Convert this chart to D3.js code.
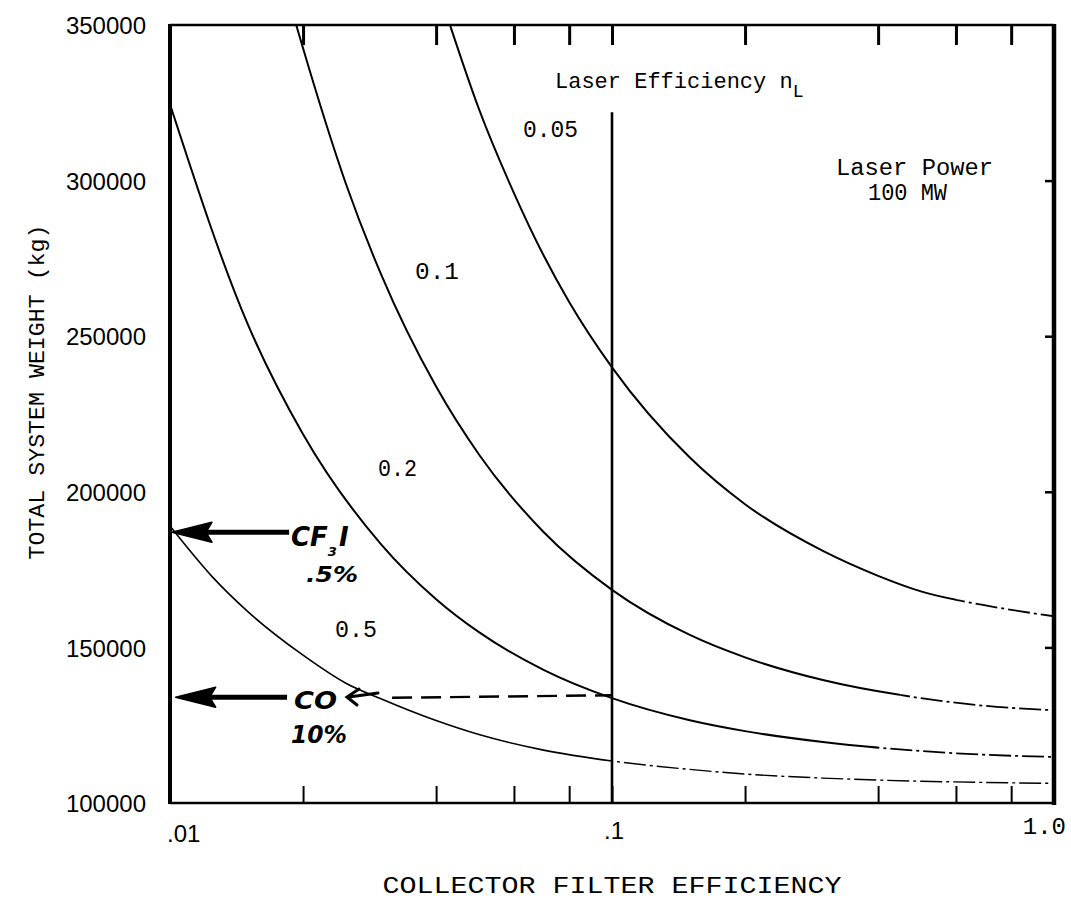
<!DOCTYPE html>
<html><head><meta charset="utf-8">
<script src="https://cdn.jsdelivr.net/npm/d3@7"></script>
<style>
html,body{margin:0;padding:0;background:#fff;}
svg{display:block;}
</style></head><body>
<svg id="chart" width="1071" height="912"></svg>
<script>
// ---------------- data ----------------
const xTickValues = [0.01, 0.1, 1];
const xTickLabels = [".01", ".1", "1.0"];
const minorTicks = [0.02, 0.04, 0.06, 0.08, 0.1, 0.2, 0.4, 0.6, 0.8];
const yTicks = [100000, 150000, 200000, 250000, 300000, 350000];
const rightTicks = [150000, 200000, 250000, 300000];

const seriesNames = ["0.05", "0.1", "0.2", "0.5"];
const eff005 = [0.043, 0.05, 0.06, 0.07, 0.08, 0.1, 0.15, 0.2, 0.3, 0.4, 0.5, 0.7, 1.0];
const w005   = [350000, 323000, 296000, 276000, 261000, 240000, 211000, 196000, 181000, 173000, 168000, 163500, 160000];
const eff01  = [0.0193, 0.02, 0.025, 0.03, 0.04, 0.05, 0.07, 0.1, 0.15, 0.2, 0.3, 0.5, 0.7, 1.0];
const w01    = [350000, 342500, 299000, 270000, 233800, 212000, 187100, 168500, 154000, 146800, 139500, 133700, 131200, 129800];
const eff02  = [0.01, 0.015, 0.02, 0.03, 0.04, 0.05, 0.07, 0.1, 0.15, 0.2, 0.3, 0.5, 0.7, 1.0];
const w02    = [324500, 253800, 218500, 183200, 165500, 154900, 142800, 133700, 126600, 123100, 119600, 116700, 115500, 114800];
const eff05  = [0.01, 0.0125, 0.015, 0.02, 0.025, 0.03, 0.04, 0.05, 0.07, 0.1, 0.15, 0.2, 0.3, 0.5, 0.7, 1.0];
const w05    = [189000, 172500, 161500, 147500, 138500, 133500, 126500, 122000, 117000, 113500, 110800, 109300, 108000, 107000, 106600, 106300];
const solidUntil = [0.6, 0.45, 0.4, 0.1];   // where each curve turns dash-dot

const refLineEff = 0.1, refLineTop = 322000;        // vertical line at .1
const cfArrow = {from: 0.0186, to: 0.0101, w: 187000};
const coArrow = {from: 0.0184, to: 0.0103, w: 134000};
const coDash  = {from: 0.0318, to: 0.1, w: 134300};

// ---------------- chart ----------------
const svg = d3.select("#chart");
const x = d3.scaleLog().domain([0.01, 1]).range([170, 1054]);
const y = d3.scaleLinear().domain([100000, 350000]).range([803, 25]);
const mono = '"Liberation Mono","DejaVu Sans Mono",monospace';
const sans = '"Liberation Sans",Arial,sans-serif';
const hand = '"DejaVu Sans",sans-serif';

// clip paths
const defs = svg.append("defs");
const series = [
  {e: eff005, w: w005}, {e: eff01, w: w01}, {e: eff02, w: w02}, {e: eff05, w: w05}
];
series.forEach((s, i) => {
  const xs = x(solidUntil[i]);
  defs.append("clipPath").attr("id", "solid" + i).append("rect")
    .attr("x", 170).attr("y", 25).attr("width", xs - 170).attr("height", 778);
  defs.append("clipPath").attr("id", "dash" + i).append("rect")
    .attr("x", xs).attr("y", 25).attr("width", 1054 - xs).attr("height", 778);
});

const line = d3.line().x(d => x(d[0])).y(d => y(d[1])).curve(d3.curveMonotoneX);
series.forEach((s, i) => {
  const pts = s.e.map((e, k) => [e, s.w[k]]);
  const sw = i === 3 ? 1.6 : 2;
  svg.append("path").datum(pts).attr("d", line).attr("fill", "none")
    .attr("stroke", "#000").attr("stroke-width", sw).attr("clip-path", `url(#solid${i})`);
  svg.append("path").datum(pts).attr("d", line).attr("fill", "none")
    .attr("stroke", "#000").attr("stroke-width", sw - 0.2)
    .attr("stroke-dasharray", "22,4,3,4").attr("clip-path", `url(#dash${i})`);
});

// vertical line at .1
svg.append("line").attr("x1", x(refLineEff)).attr("x2", x(refLineEff))
  .attr("y1", y(refLineTop)).attr("y2", y(100000))
  .attr("stroke", "#000").attr("stroke-width", 2.6);

// ticks
function styleAxis(g, w) {
  g.select(".domain").remove();
  g.selectAll("line").attr("stroke", "#000").attr("stroke-width", w);
  g.selectAll("text").remove();
}
svg.append("g").attr("transform", "translate(0,803)")
  .call(d3.axisBottom(x).tickValues(minorTicks).tickSize(-17).tickFormat(""))
  .call(g => styleAxis(g, 2));
svg.append("g").attr("transform", "translate(0,25)")
  .call(d3.axisTop(x).tickValues(minorTicks).tickSize(-20).tickFormat(""))
  .call(g => styleAxis(g, 3));
svg.append("g").attr("transform", "translate(1054,0)")
  .call(d3.axisRight(y).tickValues(rightTicks).tickSize(-9).tickFormat(""))
  .call(g => styleAxis(g, 2.5));

// y tick labels
const ya = svg.append("g").attr("transform", "translate(170,0)")
  .call(d3.axisLeft(y).tickValues(yTicks).tickSize(0).tickPadding(24).tickFormat(d3.format("d")));
ya.select(".domain").remove();
ya.selectAll("text").attr("font-family", sans).attr("font-size", 24).attr("fill", "#000").attr("dy", "0.36em");

// x tick labels
const xAnchor = ["start", "middle", "end"];
const xDx = [-3, 2, 12];
const xBase = [842, 839, 834];
const xFont = [sans, sans, mono];
xTickValues.forEach((v, i) => {
  svg.append("text").attr("x", x(v) + xDx[i]).attr("y", xBase[i])
    .attr("text-anchor", xAnchor[i]).attr("font-family", xFont[i])
    .attr("font-size", 24).text(xTickLabels[i]);
});

// frame
svg.append("line").attr("x1", 170).attr("x2", 1054).attr("y1", 25).attr("y2", 25).attr("stroke", "#000").attr("stroke-width", 2.5);
svg.append("line").attr("x1", 170).attr("x2", 1056).attr("y1", 803).attr("y2", 803).attr("stroke", "#000").attr("stroke-width", 2.5);
svg.append("line").attr("x1", 170).attr("x2", 170).attr("y1", 24).attr("y2", 804).attr("stroke", "#000").attr("stroke-width", 4);
svg.append("line").attr("x1", 1054).attr("x2", 1054).attr("y1", 24).attr("y2", 805).attr("stroke", "#000").attr("stroke-width", 4.5);

// axis titles
svg.append("text").attr("x", 612).attr("y", 893).attr("text-anchor", "middle")
  .attr("font-family", mono).attr("font-size", 24)
  .attr("textLength", 459).attr("lengthAdjust", "spacingAndGlyphs")
  .text("COLLECTOR FILTER EFFICIENCY");
svg.append("text").attr("transform", "translate(44,392) rotate(-90)")
  .attr("text-anchor", "middle").attr("font-family", mono).attr("font-size", 22)
  .attr("textLength", 335).attr("lengthAdjust", "spacingAndGlyphs")
  .text("TOTAL SYSTEM WEIGHT (kg)");

// in-plot labels
function tl(txt, xx, yy, len, size) {
  const t = svg.append("text").attr("x", xx).attr("y", yy)
    .attr("font-family", mono).attr("font-size", size || 23).text(txt);
  if (len) t.attr("textLength", len).attr("lengthAdjust", "spacingAndGlyphs");
  return t;
}
const le = svg.append("text").attr("x", 555).attr("y", 88)
  .attr("font-family", mono).attr("font-size", 22);
le.append("tspan").text("Laser Efficiency n");
le.append("tspan").attr("dy", 9).attr("font-size", 18).text("L");
tl("0.05", 523, 137, 55);
tl("0.1", 415, 279, 44);
tl("0.2", 378, 476, 39);
tl("0.5", 335, 637, 42);
tl("Laser Power", 836, 175, 157);
tl("100 MW", 868, 200, 79);

// hand annotations
function arrow(a) {
  const yy = y(a.w), x1 = x(a.from), x0 = x(a.to);
  svg.append("line").attr("x1", x1).attr("x2", x0 + 34).attr("y1", yy).attr("y2", yy)
    .attr("stroke", "#000").attr("stroke-width", 5);
  svg.append("path").attr("d", `M${x0},${yy} L${x0 + 40},${yy - 10} L${x0 + 34},${yy} L${x0 + 40},${yy + 10} Z`)
    .attr("fill", "#000").attr("stroke", "#000").attr("stroke-width", 1.5).attr("stroke-linejoin", "round");
}
arrow(cfArrow);
arrow(coArrow);
svg.append("line").attr("x1", x(coDash.from)).attr("x2", x(coDash.to))
  .attr("y1", y(coDash.w) + 1.5).attr("y2", y(coDash.w) - 1)
  .attr("stroke", "#000").attr("stroke-width", 2.4).attr("stroke-dasharray", "20,9");
svg.append("path").attr("d", "M378,693 L349,697 M359,689 L347,697 L357,705")
  .attr("fill", "none").attr("stroke", "#000").attr("stroke-width", 3).attr("stroke-linecap", "round");

function ht(txt, xx, yy, size, len) {
  const t = svg.append("text").attr("x", xx).attr("y", yy)
    .attr("font-family", hand).attr("font-weight", "bold").attr("font-style", "italic")
    .attr("font-size", size).text(txt);
  if (len) t.attr("textLength", len).attr("lengthAdjust", "spacingAndGlyphs");
  return t;
}
const cf = svg.append("text").attr("x", 291).attr("y", 546)
  .attr("font-family", hand).attr("font-weight", "bold").attr("font-style", "italic")
  .attr("font-size", 26);
cf.append("tspan").text("CF");
cf.append("tspan").attr("dy", 10).attr("font-size", 13).text("3");
cf.append("tspan").attr("dy", -10).attr("dx", 2).text("I");
ht(".5%", 306, 582, 21, 52);
ht("CO", 294, 709, 25, 43);
ht("10%", 291, 743, 25, 56);
</script>
</body></html>
